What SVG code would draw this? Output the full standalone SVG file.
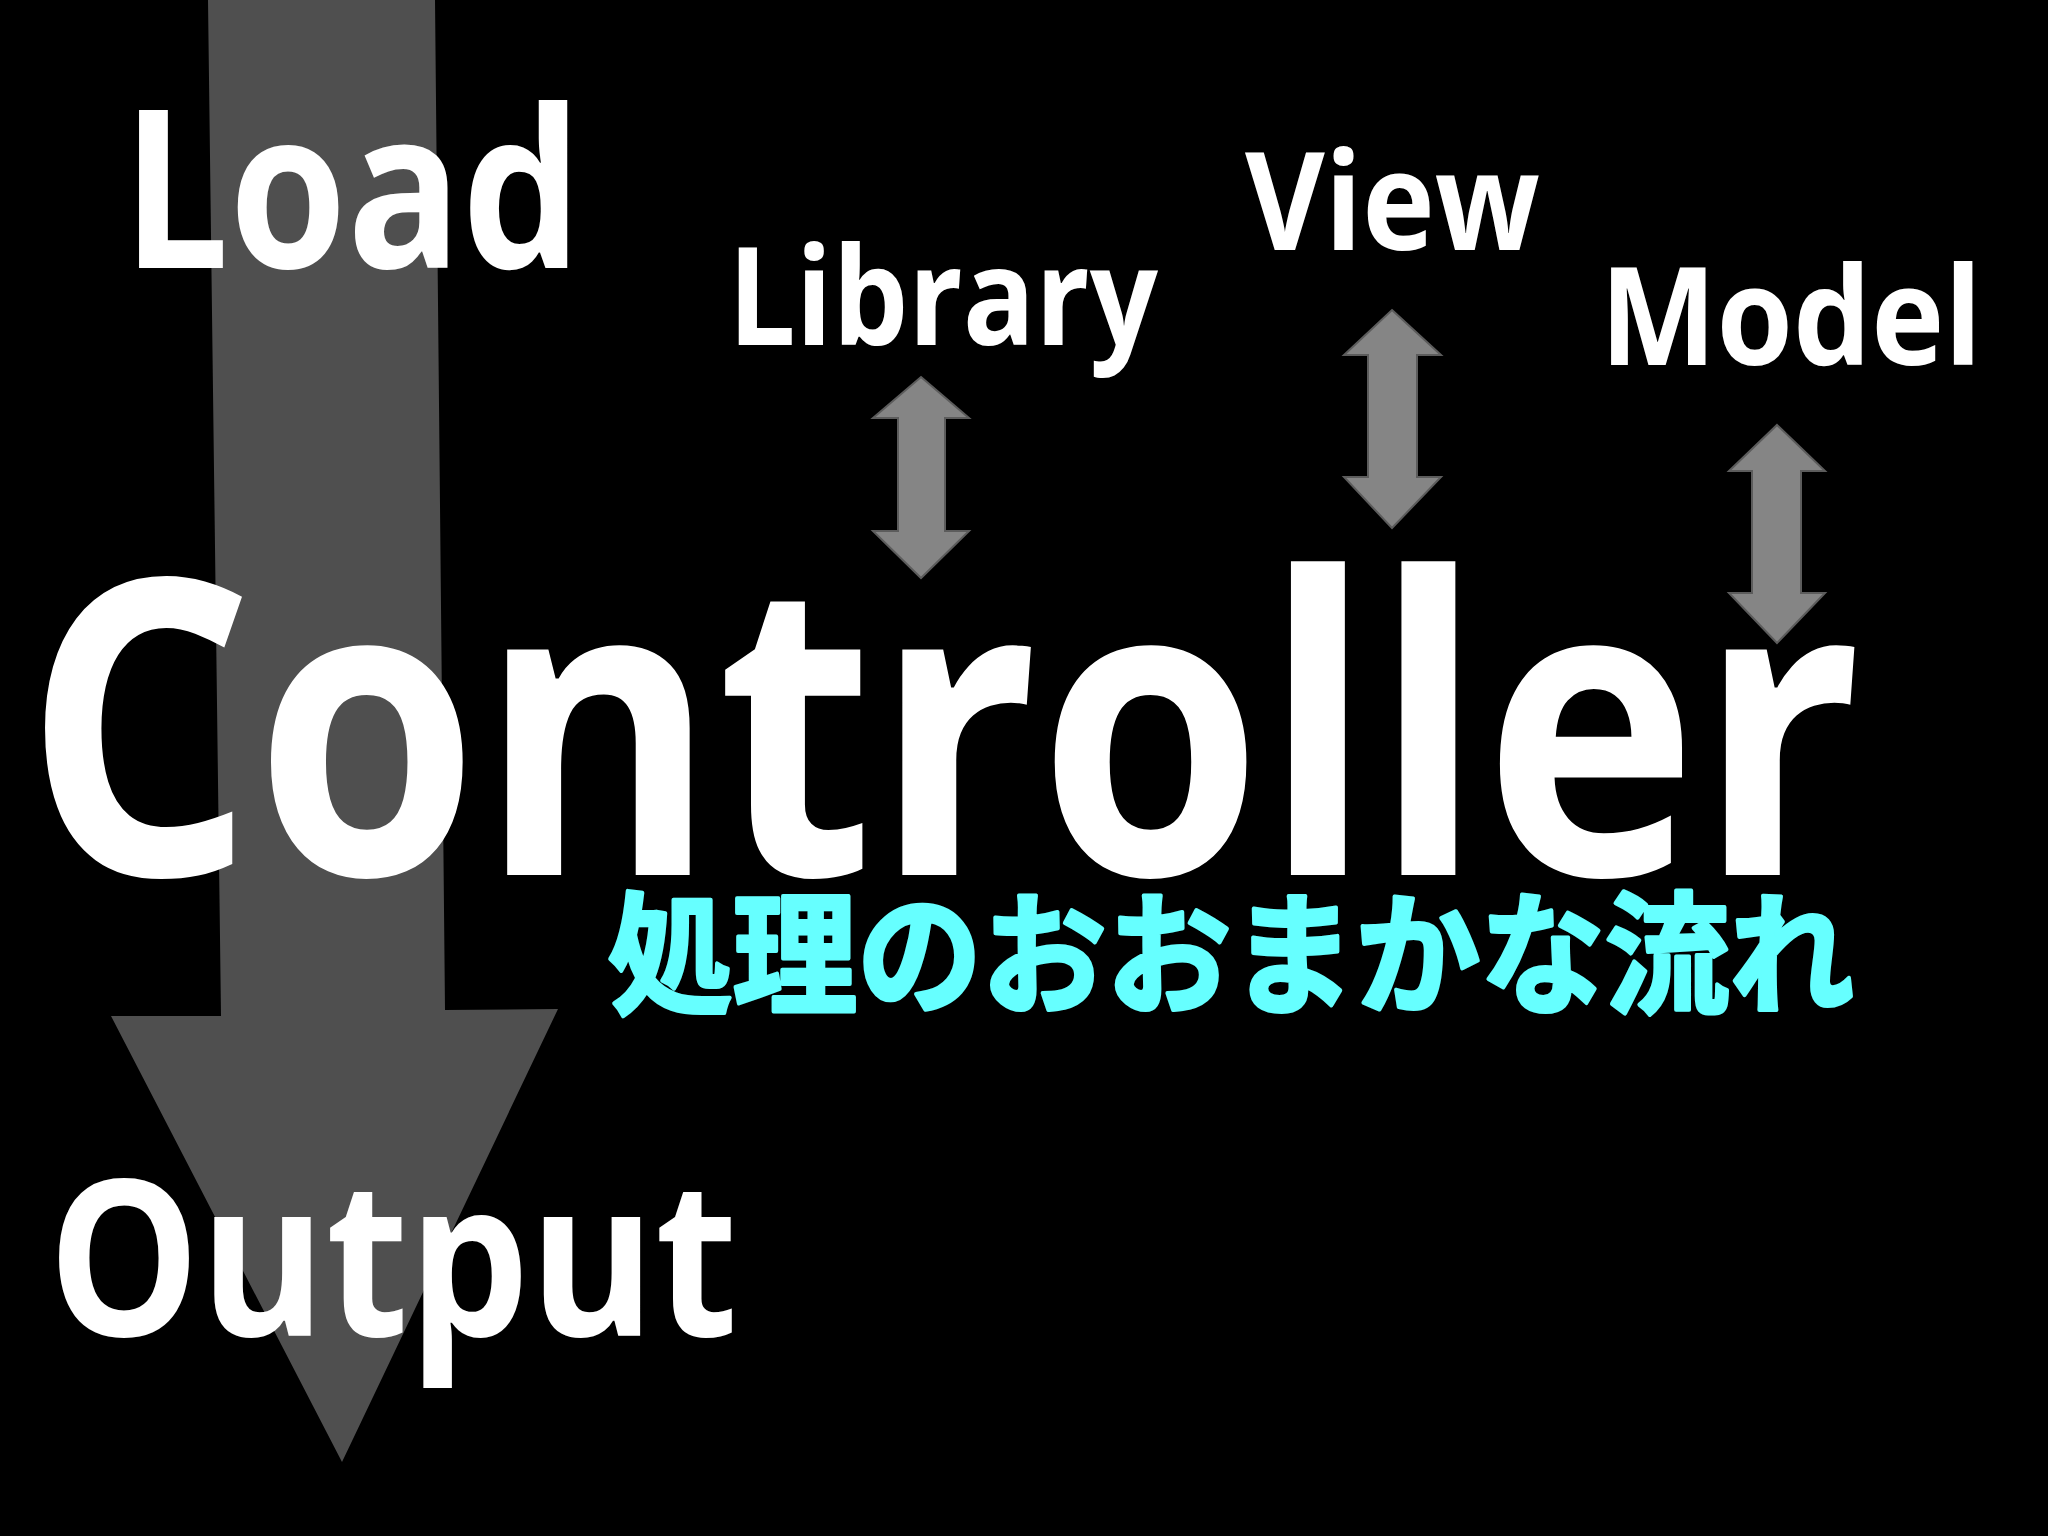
<svg xmlns="http://www.w3.org/2000/svg" width="2048" height="1536" viewBox="0 0 2048 1536">
  <style>
    .lbl { font-family: "Open Sans", "Noto Sans", "Liberation Sans", sans-serif; font-weight: 700; fill: #ffffff; }
    .jp { font-family: "Noto Sans CJK JP", "Noto Sans CJK SC", sans-serif; font-weight: 700; fill: #66ffff; stroke: #66ffff; stroke-width: 4; stroke-linejoin: round; }
    .big { fill: #4f4f4f; }
    .dbl { fill: #858585; stroke: #5c5c5c; stroke-width: 2; stroke-linejoin: miter; }
  </style>
  <rect x="0" y="0" width="2048" height="1536" fill="#000000"/>
  <g id="flow-arrow">
    <polygon class="big" points="208,0 435,0 445,1010 558,1009 342,1462 111,1016 221,1016"/>
  </g>
  <g id="connectors">
    <polygon class="dbl" points="921,377 969,418 945,418 945,531 969,531 921,578 873,531 898,531 898,418 873,418"/>
    <polygon class="dbl" points="1392,310 1441,355 1417,355 1417,477 1441,477 1392,528 1344,477 1368,477 1368,355 1344,355"/>
    <polygon class="dbl" points="1777,425 1825,471 1801,471 1801,593 1825,593 1777,643 1729,593 1752,593 1752,471 1729,471"/>
  </g>
  <g id="load"><text class="lbl" x="122" y="268" font-size="221" textLength="460" lengthAdjust="spacingAndGlyphs">Load</text></g>
  <g id="library"><text class="lbl" x="728" y="345" font-size="137" textLength="430" lengthAdjust="spacingAndGlyphs">Library</text></g>
  <g id="view"><text class="lbl" x="1245" y="250" font-size="137" textLength="295" lengthAdjust="spacingAndGlyphs">View</text></g>
  <g id="model"><text class="lbl" x="1600" y="365" font-size="137" textLength="382" lengthAdjust="spacingAndGlyphs">Model</text></g>
  <g id="controller"><text class="lbl" x="24" y="875" font-size="413" textLength="1838" lengthAdjust="spacingAndGlyphs">Controller</text></g>
  <g id="subtitle"><text class="jp" x="608" y="1003" font-size="132" textLength="1246" lengthAdjust="spacingAndGlyphs">処理のおおまかな流れ</text></g>
  <g id="output"><text class="lbl" x="48" y="1336" font-size="218" textLength="690" lengthAdjust="spacingAndGlyphs">Output</text></g>
</svg>
